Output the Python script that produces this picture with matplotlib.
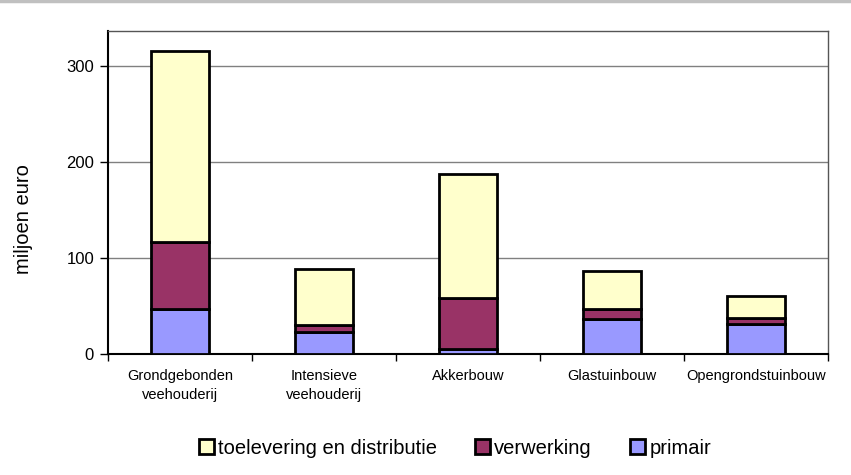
import matplotlib
matplotlib.use("Agg")
import matplotlib.pyplot as plt
from matplotlib import font_manager
from matplotlib.lines import Line2D
import numpy as np

categories = ["Grondgebonden\nveehouderij", "Intensieve\nveehouderij", "Akkerbouw",
              "Glastuinbouw", "Opengrondstuinbouw"]
primair = [46.6, 23.3, 5.2, 36.2, 31.0]
verwerking = [70.6, 7.0, 52.9, 10.8, 6.9]
toelevering = [199.4, 58.1, 129.9, 40.0, 22.6]
series_names = ["toelevering en distributie", "verwerking", "primair"]
colors = {"primair": "#9999FF", "verwerking": "#993366", "toelevering": "#FFFFCC"}

avail = {f.name for f in font_manager.fontManager.ttflist}
fam = "Liberation Sans Narrow" if "Liberation Sans Narrow" in avail else "Liberation Sans"
plt.rcParams['font.family'] = [fam, 'DejaVu Sans']

fig = plt.figure(figsize=(8.51, 4.75), dpi=100)
ax = fig.add_axes([108/851, 1 - 354/475, 720/851, 323/475])

x = np.arange(len(categories))
w = 0.40
p = np.array(primair); v = np.array(verwerking); t = np.array(toelevering)
kw = dict(width=w, edgecolor="black", linewidth=2.0, zorder=3)
b1 = ax.bar(x, p, color=colors["primair"], **kw)
b2 = ax.bar(x, v, bottom=p, color=colors["verwerking"], **kw)
b3 = ax.bar(x, t, bottom=p + v, color=colors["toelevering"], **kw)

ax.set_xlim(-0.5, len(categories) - 0.5)
ax.set_ylim(0, 337)
ax.set_yticks([0, 100, 200, 300])
ax.yaxis.grid(True, color="#808080", linewidth=1.0, zorder=0)
ax.set_axisbelow(True)

ax.set_xticks(x)
ax.set_xticklabels(categories, fontsize=10.5, linespacing=1.45)
ax.tick_params(axis="x", length=0, pad=11)
ax.set_xticks(np.arange(-0.5, len(categories), 1.0), minor=True)
ax.tick_params(axis="x", which="minor", length=5, width=1, direction="out", color="black")
ax.tick_params(axis="y", length=6, width=1, direction="out", labelsize=12, pad=4, color="black")

for s in ["left", "bottom"]:
    ax.spines[s].set_color("black")
    ax.spines[s].set_linewidth(1.5)
for s in ["top", "right"]:
    ax.spines[s].set_color("#555555")
    ax.spines[s].set_linewidth(1.0)

ax.set_ylabel("miljoen euro", fontsize=14.5)
ax.yaxis.set_label_coords((33 - 108) / 720, (354 - 219) / 323)

handles = [b3, b2, b1]
fig.legend(handles, series_names, loc="center", bbox_to_anchor=(455/851, 1 - 448/475),
           ncol=3, frameon=False, fontsize=14.5, handlelength=0.75, handleheight=0.75,
           handletextpad=0.2, columnspacing=1.9)

fig.add_artist(Line2D([0, 1], [1 - 1/475, 1 - 1/475], color="#c0c0c0", linewidth=2.5,
                      transform=fig.transFigure))

fig.savefig("out.png", dpi=100)
